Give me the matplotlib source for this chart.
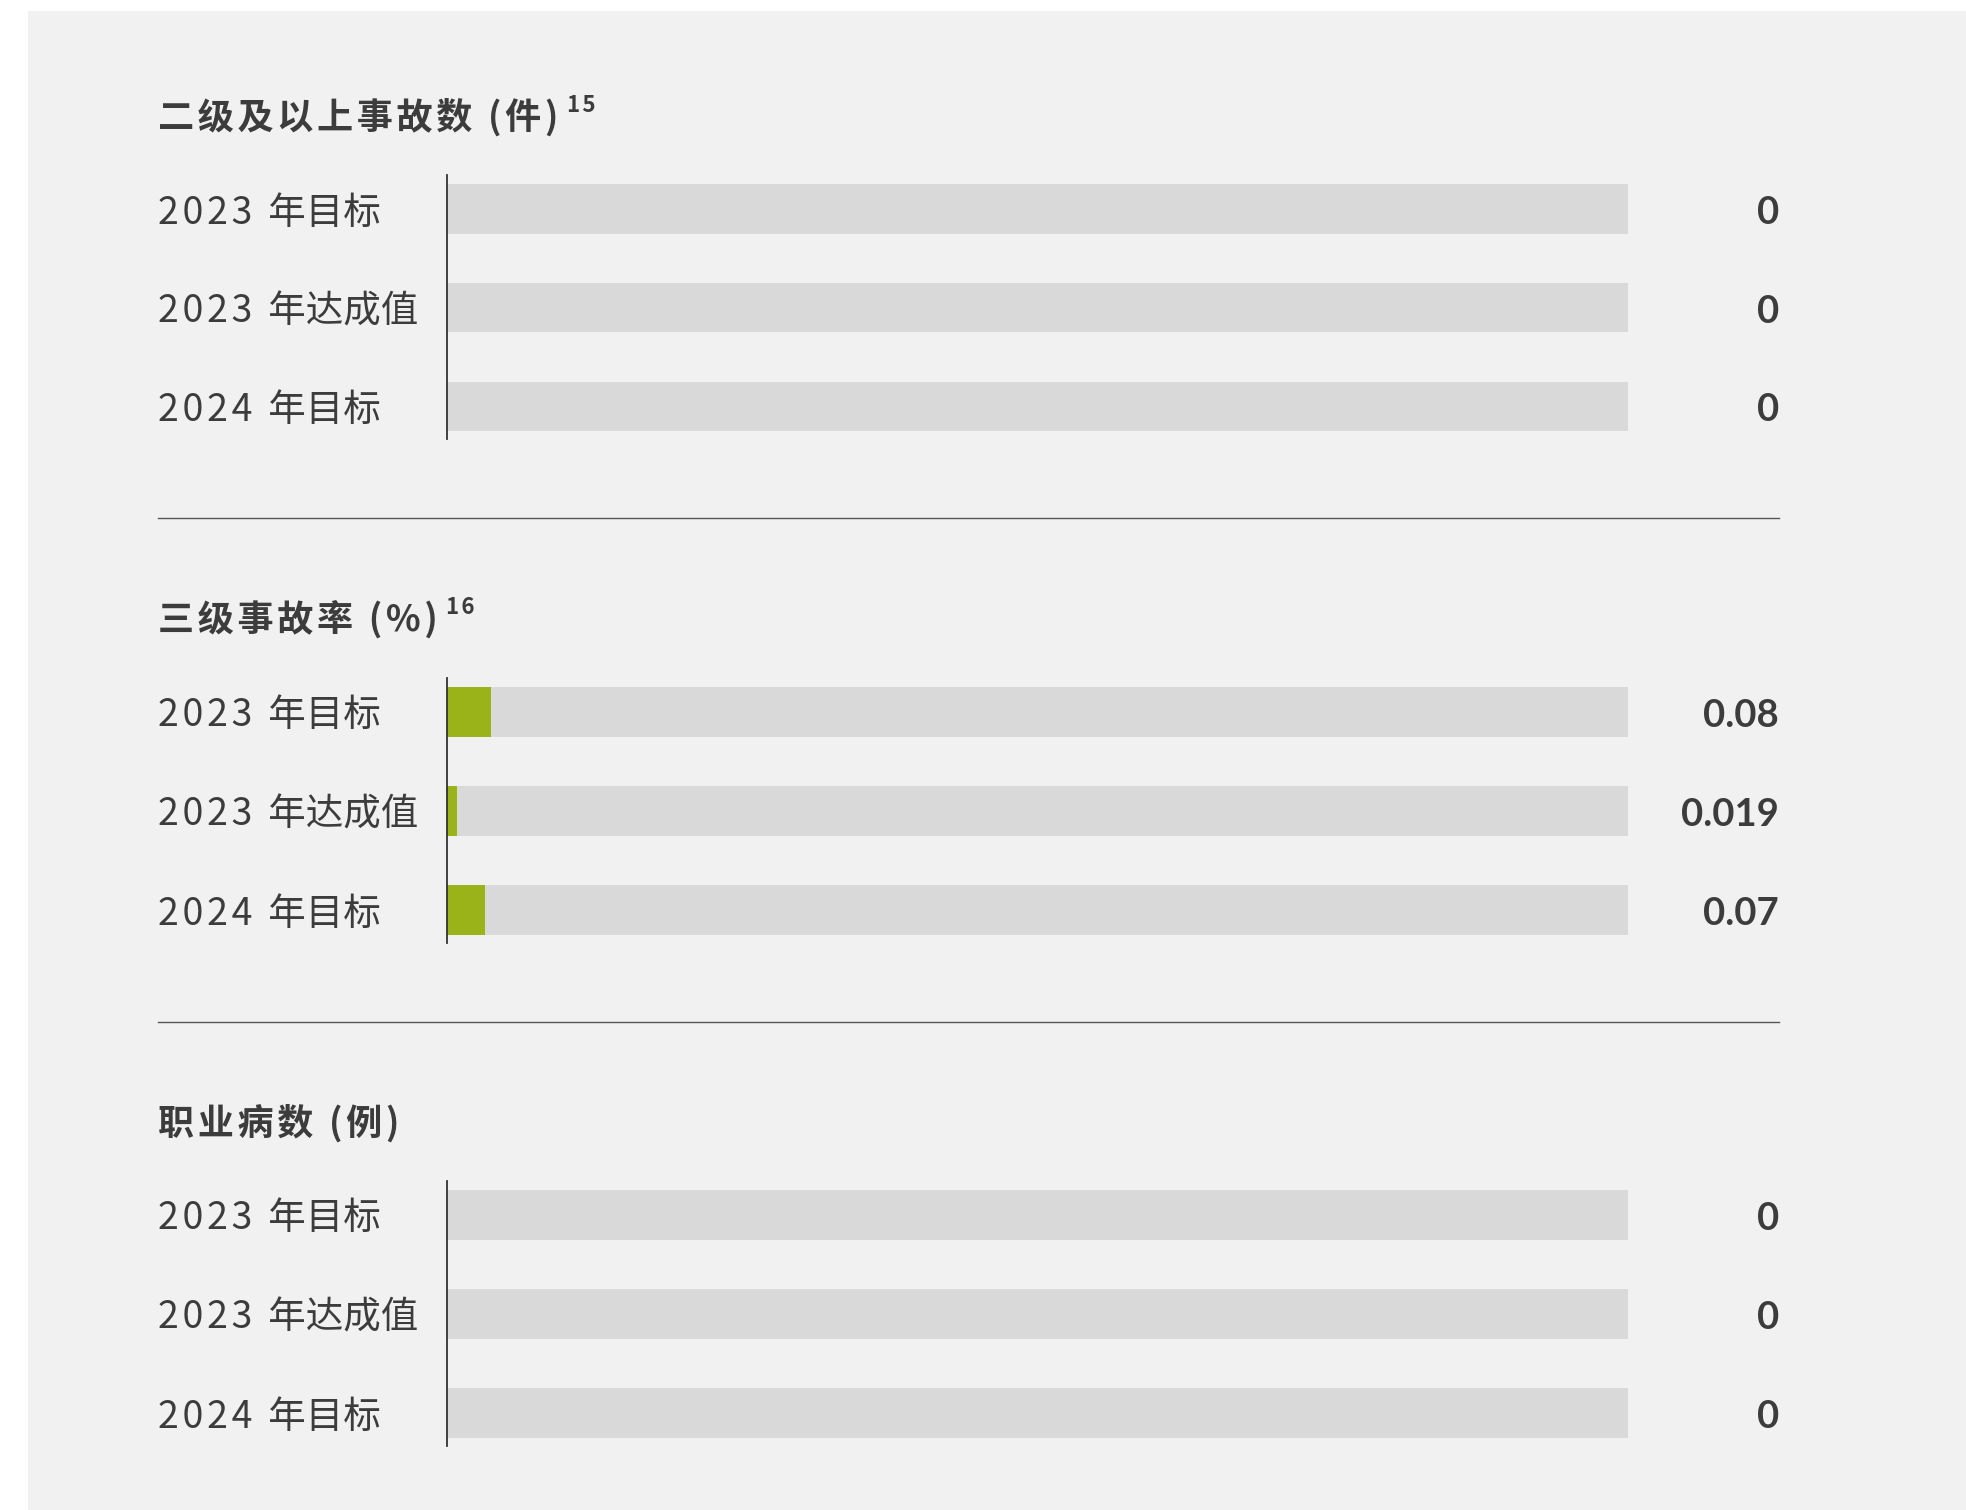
import matplotlib
matplotlib.use('Agg')
import matplotlib.pyplot as plt
from matplotlib.patches import Rectangle
from matplotlib.lines import Line2D

plt.rcParams['font.family'] = ['Noto Sans CJK SC', 'DejaVu Sans']

# Data
titles = ['二级及以上事故数 (件)', '三级事故率 (%)', '职业病数 (例)']
footnotes = ['15', '16', '']
row_labels = ['2023 年目标', '2023 年达成值', '2024 年目标']
values_accidents = [0, 0, 0]
values_rate = [0.08, 0.019, 0.07]
values_disease = [0, 0, 0]
value_texts = [['0', '0', '0'], ['0.08', '0.019', '0.07'], ['0', '0', '0']]
track_max = [1.0, 2.15, 1.0]

all_values = [values_accidents, values_rate, values_disease]

# Colours
bg_color = '#f1f1f1'
track_color = '#d9d9d9'
green = '#99b318'
text_color = '#3c3c3c'
line_color = '#333333'

THIN = '\u2009'
HAIR = '\u200a'


def spaced(s, gap, digits_only=False):
    # widen the tracking a little, like the original layout
    out = ''
    for j, ch in enumerate(s):
        if ch == ' ':
            out += ' ' + THIN
            continue
        out += ch
        if j < len(s) - 1 and s[j + 1] != ' ':
            if not digits_only or (ch.isdigit() and s[j + 1].isdigit()):
                out += gap
    return out


W, H = 1966, 1510
fig = plt.figure(figsize=(W / 100, H / 100), dpi=100)
fig.patch.set_facecolor('white')

# light grey panel behind everything
fig.patches.append(Rectangle((28 / W, 0), 1, 1 - 11 / H, transform=fig.transFigure,
                             facecolor=bg_color, edgecolor='none', zorder=-10))

left_px, right_px, track_end_px, label_px = 447, 1779, 1628, 158
title_y = [117, 619, 1123]
ax_top = [175.5, 678, 1181]
ax_bottom = [439, 943, 1446]
sep_y = [518, 1022]
text_shift = 0.04  # small downward nudge of the row texts (data units)

for i in range(3):
    ax = fig.add_axes([left_px / W, 1 - ax_bottom[i] / H,
                       (right_px - left_px) / W, (ax_bottom[i] - ax_top[i]) / H])
    ax.set_facecolor('none')
    rows = list(range(len(row_labels)))
    tmax = track_max[i]
    ax.barh(rows, [tmax] * len(rows), height=0.5, color=track_color, zorder=1)
    ax.barh(rows, all_values[i], height=0.5, color=green, zorder=2)
    ax.set_xlim(0, tmax * (right_px - left_px) / (track_end_px - left_px))
    ax.set_ylim(2.33, -0.34)

    for s in ['top', 'right', 'bottom']:
        ax.spines[s].set_visible(False)
    ax.spines['left'].set_color(line_color)
    ax.spines['left'].set_linewidth(1.3)
    ax.spines['left'].set_zorder(3)
    ax.set_xticks([])
    ax.set_yticks([])

    label_x = -(left_px - label_px) / (right_px - left_px)
    for r, lab in enumerate(row_labels):
        ax.text(label_x, r + text_shift, spaced(lab, HAIR, digits_only=True),
                transform=ax.get_yaxis_transform(), ha='left', va='center',
                fontsize=27, color=text_color)
        ax.text(1.0, r + text_shift, value_texts[i][r], transform=ax.get_yaxis_transform(),
                ha='right', va='center', fontsize=27.5, fontweight='bold', color=text_color,
                family=['Lato', 'DejaVu Sans'])

    t = fig.text(label_px / W, 1 - title_y[i] / H, spaced(titles[i], HAIR), ha='left',
                 va='center', fontsize=26, fontweight='bold', color=text_color)
    if footnotes[i]:
        ax.annotate(spaced(footnotes[i], HAIR), xy=(1, 1), xycoords=t, xytext=(6, 3),
                    textcoords='offset points', ha='left', va='top',
                    fontsize=16, fontweight='bold', color=text_color,
                    annotation_clip=False)

for y in sep_y:
    fig.add_artist(Line2D([label_px / W, right_px / W], [1 - y / H, 1 - y / H],
                          color='#555555', linewidth=1.0))

fig.savefig('out.png', dpi=100)
